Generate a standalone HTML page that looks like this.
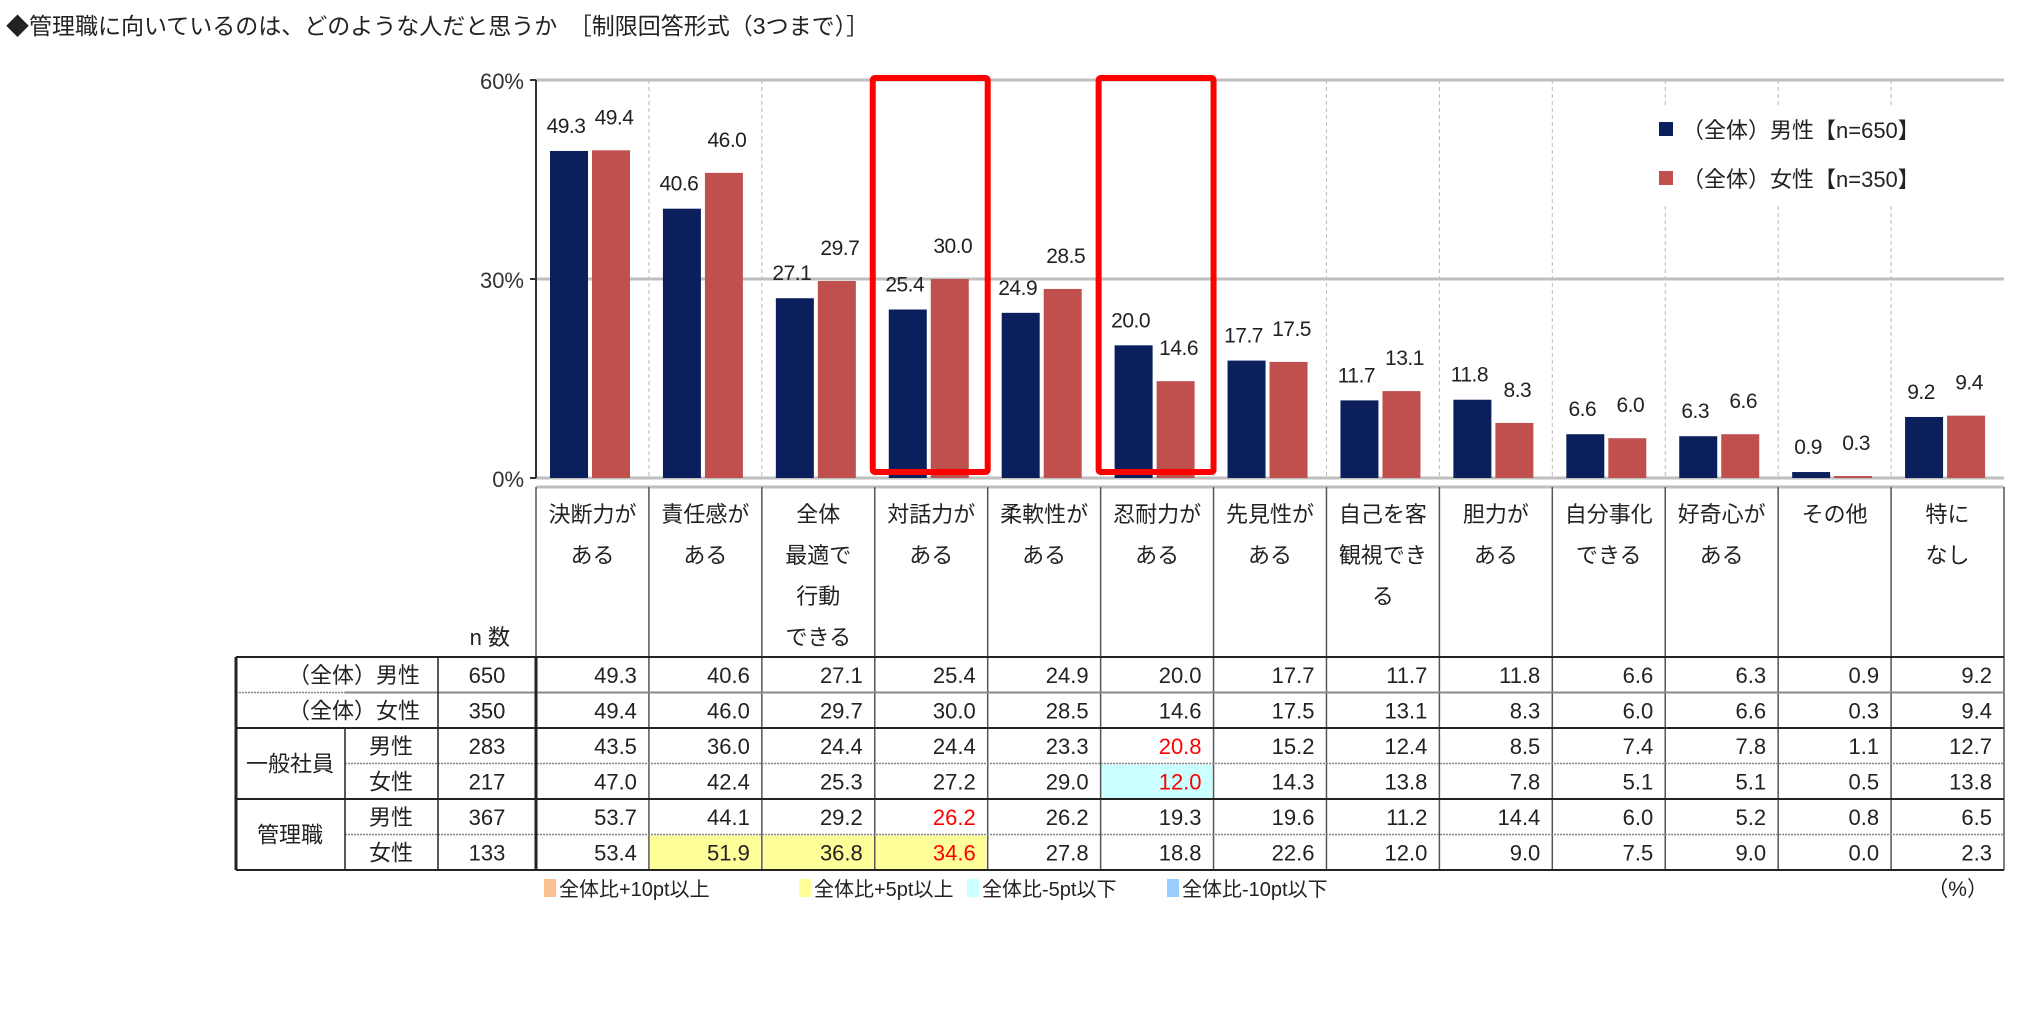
<!DOCTYPE html>
<html><head><meta charset="utf-8"><style>
html,body{margin:0;padding:0;background:#fff;}
svg{display:block;font-family:"Liberation Sans","Noto Sans CJK JP",sans-serif;}
</style></head><body>
<svg id="chart" width="2021" height="1025" viewBox="0 0 2021 1025">
<text x="6" y="34" font-size="23" fill="#222">◆管理職に向いているのは、どのような人だと思うか　［制限回答形式（3つまで）］</text>
</svg>
<script>
const categories=[["決断力が","ある"],["責任感が","ある"],["全体","最適で","行動","できる"],["対話力が","ある"],["柔軟性が","ある"],["忍耐力が","ある"],["先見性が","ある"],["自己を客","観視でき","る"],["胆力が","ある"],["自分事化","できる"],["好奇心が","ある"],["その他"],["特に","なし"]];
const maleAll=[49.3,40.6,27.1,25.4,24.9,20.0,17.7,11.7,11.8,6.6,6.3,0.9,9.2];
const femaleAll=[49.4,46.0,29.7,30.0,28.5,14.6,17.5,13.1,8.3,6.0,6.6,0.3,9.4];
const ippanMale=[43.5,36.0,24.4,24.4,23.3,20.8,15.2,12.4,8.5,7.4,7.8,1.1,12.7];
const ippanFemale=[47.0,42.4,25.3,27.2,29.0,12.0,14.3,13.8,7.8,5.1,5.1,0.5,13.8];
const kanriMale=[53.7,44.1,29.2,26.2,26.2,19.3,19.6,11.2,14.4,6.0,5.2,0.8,6.5];
const kanriFemale=[53.4,51.9,36.8,34.6,27.8,18.8,22.6,12.0,9.0,7.5,9.0,0.0,2.3];
const nCounts=[650,350,283,217,367,133];
const yTicks=[0,30,60];
const highlightCats=[3,5];

const NS="http://www.w3.org/2000/svg";
const svg=document.getElementById('chart');
function el(tag,attrs,parent){const e=document.createElementNS(NS,tag);for(const k in attrs)e.setAttribute(k,attrs[k]);(parent||svg).appendChild(e);return e;}
const X0=536,X1=2004,Y0=478,Y1=80,YMAX=60;
const cw=(X1-X0)/categories.length;
const y=v=>Y0-(Y0-Y1)*v/YMAX;
const cx=i=>X0+cw*i;

// dashed gridlines between categories
for(let i=1;i<categories.length;i++){
  const l=el('line',{x1:cx(i),x2:cx(i),y1:Y1,y2:Y0,stroke:'#bbb','stroke-dasharray':'4,3','stroke-width':1});
  
  
}
// horizontal gridlines & ticks
yTicks.forEach(t=>{
  const l=el('line',{x1:X0,x2:X1,y1:y(t),y2:y(t),stroke:'#bfbfbf','stroke-width':t===0?3:3});
  
  
  const tk=el('line',{x1:X0-6,x2:X0,y1:y(t),y2:y(t),stroke:'#333','stroke-width':2});
  
  
  const tx=el('text',{x:X0-12,y:y(t)+9,'font-size':22,'text-anchor':'end',fill:'#333'});
  tx.textContent=t+'%';
  
  
});
const ax=el('line',{x1:X0,x2:X0,y1:Y1,y2:Y0,stroke:'#333','stroke-width':2});



// legend box
const lg=el('rect',{x:1640,y:108,width:330,height:95,fill:'#fff'});


[['#0b1f5c','（全体）男性【n=650】',130],['#c0504d','（全体）女性【n=350】',179]].forEach(([c,t,yy])=>{
  const s=el('rect',{x:1659,y:yy-8,width:14,height:14,fill:c});
  
  
  const tx=el('text',{x:1682,y:yy+8,'font-size':22,fill:'#222'});
  tx.textContent=t;
  
  
});

// bars
const bw=38,off=14,gap=4;
maleAll.forEach((v,i)=>{
  const xm=cx(i)+off, xf=xm+bw+gap;
  const b1=el('rect',{x:xm,y:y(v),width:bw,height:Y0-y(v),fill:'#0b1f5c'});
  
  
  const fv=femaleAll[i];
  const b2=el('rect',{x:xf,y:y(fv),width:bw,height:Y0-y(fv),fill:'#c0504d'});
  
  
  const t1=el('text',{x:xm+bw/2-3,y:y(v)-18,'font-size':21,'text-anchor':'middle',fill:'#222','letter-spacing':'-0.5'});
  t1.textContent=v.toFixed(1);
  
  
  const t2=el('text',{x:xf+bw/2+3,y:y(fv)-26,'font-size':21,'text-anchor':'middle',fill:'#222','letter-spacing':'-0.5'});
  t2.textContent=fv.toFixed(1);
  
  
});
// red highlight boxes
highlightCats.forEach(i=>{
  const r=el('rect',{x:cx(i)-2,y:Y1-2,width:cw+2,height:Y0-Y1-4,fill:'none',stroke:'#ff0000','stroke-width':6,rx:2});
  
  
});

// table
const TT=487,HB=657,RH=35.5;
const tl=el('line',{x1:X0,x2:X1,y1:TT,y2:TT,stroke:'#bfbfbf','stroke-width':3});


for(let i=0;i<=categories.length;i++){
  const l=el('line',{x1:cx(i),x2:cx(i),y1:TT,y2:HB+RH*6,stroke:'#555','stroke-width':1.5});
  
  
}
categories.forEach((lines,i)=>{
  lines.forEach((s,j)=>{
    const t=el('text',{x:cx(i)+cw/2,y:522+j*41,'font-size':22,'text-anchor':'middle',fill:'#222'});
    t.textContent=s;
    
    
  });
});
const nh=el('text',{x:510,y:645,'font-size':22,'text-anchor':'end',fill:'#222'});
nh.textContent='n 数';



const rows=[maleAll,femaleAll,ippanMale,ippanFemale,kanriMale,kanriFemale];
const yellow={'5-1':1,'5-2':1,'5-3':1};
const cyan={'3-5':1};
const red={'4-3':1,'5-3':1,'2-5':1,'3-5':1};
rows.forEach((r,ri)=>{
  const top=HB+ri*RH;
  r.forEach((v,ci)=>{
    const k=ri+'-'+ci;
    if(yellow[k]||cyan[k]){
      const bg=el('rect',{x:cx(ci)+1,y:top+1,width:cw-2,height:RH-1,fill:yellow[k]?'#ffff99':'#ccffff'});
      
      
    }
    const t=el('text',{x:cx(ci+1)-12,y:top+RH/2+8,'font-size':22,'text-anchor':'end',fill:red[k]?'#ff0000':'#222'});
    t.textContent=v.toFixed(1);
    
    
  });
});
// row lines
for(let ri=0;ri<=6;ri++){
  const yy=HB+ri*RH;
  const solid=[0,1,2,4,6].includes(ri);
  const l=el('line',{x1:ri===0||ri===2||ri===4||ri===6?236:345,x2:X1,y1:yy,y2:yy,stroke:ri===0||ri===2||ri===4||ri===6?'#222':'#888','stroke-width':solid?2:1.5,'stroke-dasharray':solid?'none':'2,1'});
  
  
}
const l1=el('line',{x1:236,x2:345,y1:HB+RH,y2:HB+RH,stroke:'#888','stroke-width':1.5,'stroke-dasharray':'2,1'});


// left table verticals
[[236,HB,HB+6*RH,3],[345,HB+2*RH,HB+6*RH,1.5],[438,HB,HB+6*RH,1.5],[536,HB,HB+6*RH,3]].forEach(([x,a,b,w])=>{
  const l=el('line',{x1:x,x2:x,y1:a,y2:b,stroke:'#222','stroke-width':w});
  
  
});
const rowLabels=[['（全体）男性',0],['（全体）女性',1]];
rowLabels.forEach(([s,ri])=>{
  const t=el('text',{x:420,y:HB+ri*RH+RH/2+8,'font-size':22,'text-anchor':'end',fill:'#222'});
  t.textContent=s;
  
  
});
[['一般社員',2],['管理職',4]].forEach(([s,ri])=>{
  const t=el('text',{x:290,y:HB+(ri+1)*RH+8,'font-size':22,'text-anchor':'middle',fill:'#222'});
  t.textContent=s;
  
  
});
[2,3,4,5].forEach(ri=>{
  const t=el('text',{x:391,y:HB+ri*RH+RH/2+8,'font-size':22,'text-anchor':'middle',fill:'#222'});
  t.textContent=ri%2===0?'男性':'女性';
  
  
});
nCounts.forEach((n,ri)=>{
  const t=el('text',{x:487,y:HB+ri*RH+RH/2+8,'font-size':22,'text-anchor':'middle',fill:'#222'});
  t.textContent=n;
  
  
});
// bottom legend
[['#fac090','全体比+10pt以上',544],['#ffff99','全体比+5pt以上',799],['#ccffff','全体比-5pt以下',967],['#99ccff','全体比-10pt以下',1167]].forEach(([c,s,x])=>{
  const r=el('rect',{x:x,y:879,width:12,height:18,fill:c});
  
  
  const t=el('text',{x:x+15,y:896,'font-size':20,fill:'#222'});
  t.textContent=s;
  
  
});
const pc=el('text',{x:1988,y:896,'font-size':21,'text-anchor':'end',fill:'#222'});
pc.textContent='（%）';


</script>
</body></html>
